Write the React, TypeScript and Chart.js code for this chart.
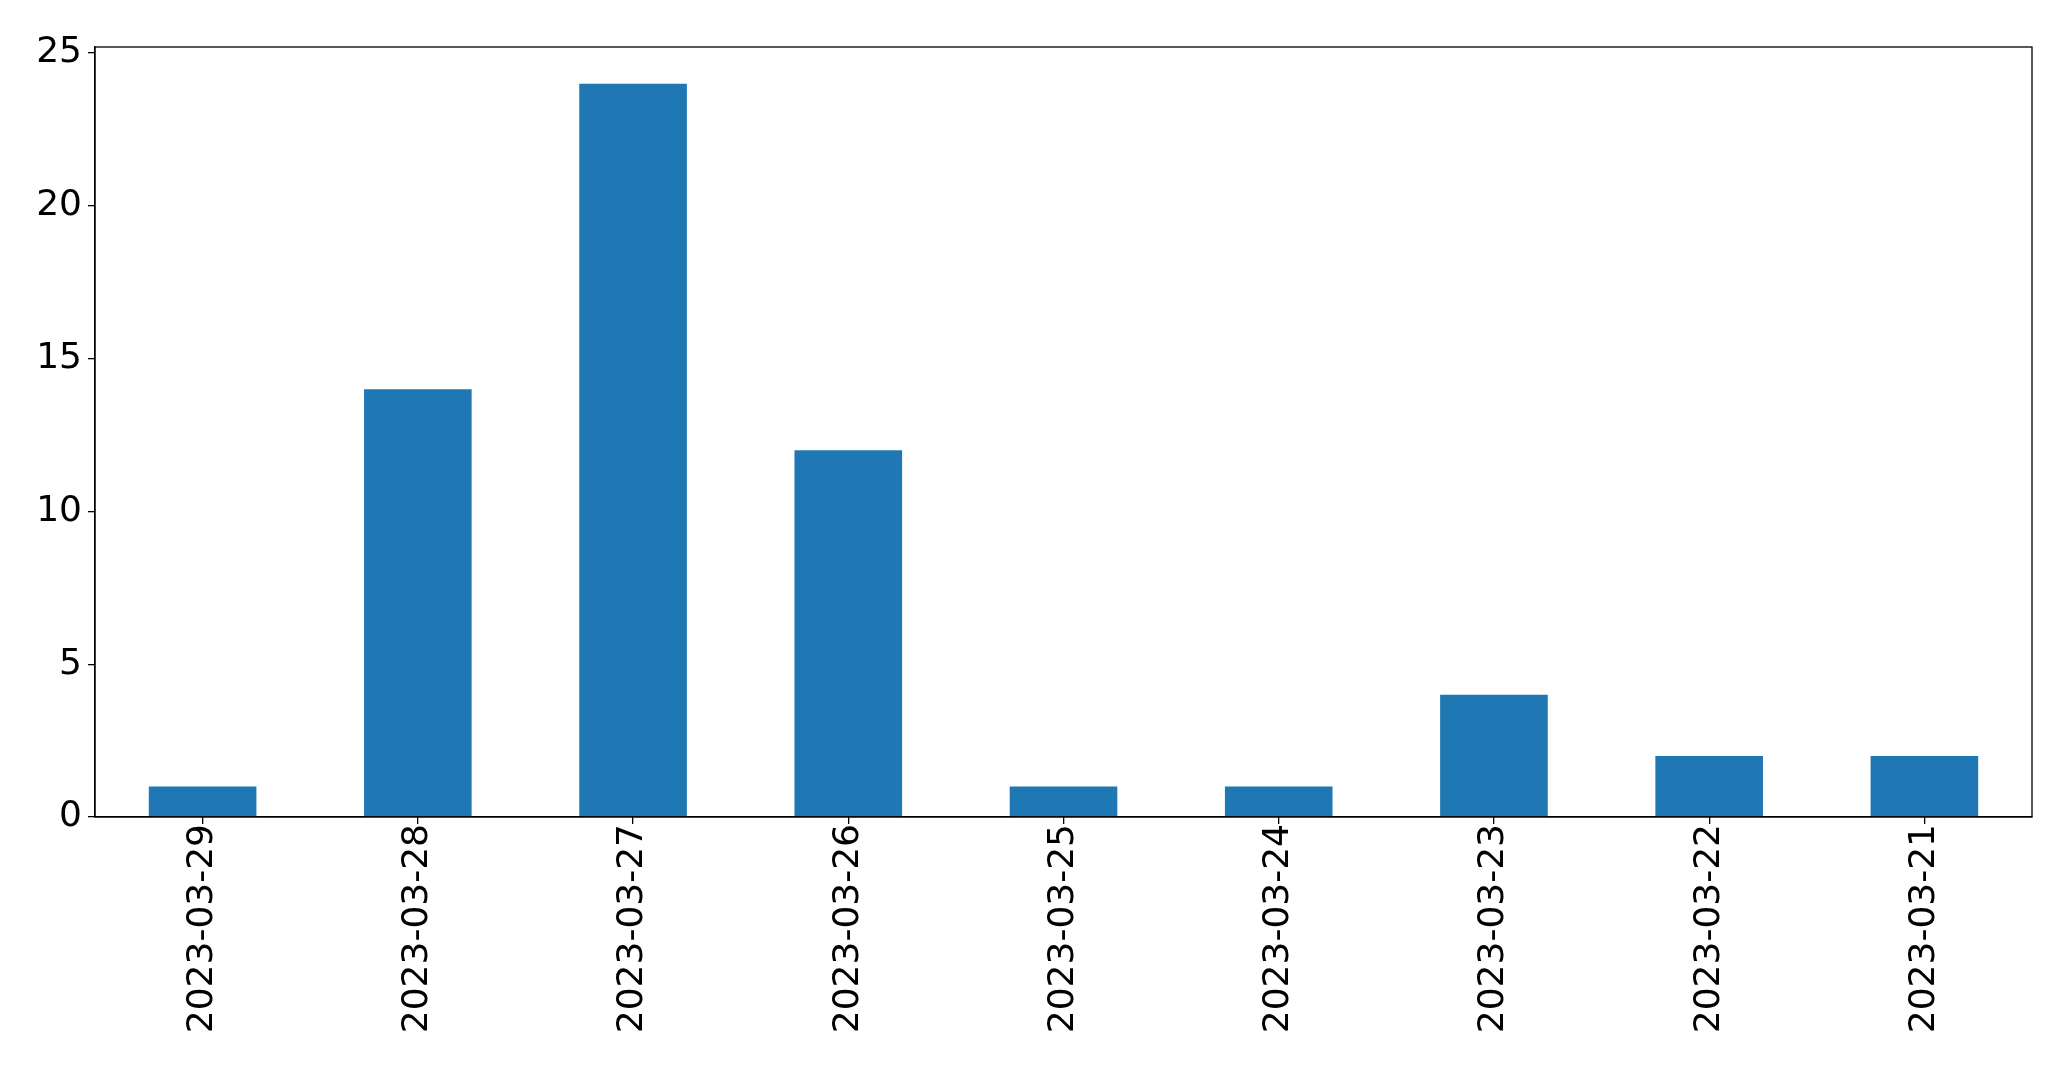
import React, { useEffect, useRef } from "react";
import { Chart, registerables } from "chart.js";

Chart.register(...registerables);

const categories = [
  "2023-03-29",
  "2023-03-28",
  "2023-03-27",
  "2023-03-26",
  "2023-03-25",
  "2023-03-24",
  "2023-03-23",
  "2023-03-22",
  "2023-03-21",
];
const counts = [1, 14, 24, 12, 1, 1, 4, 2, 2];
const yTicks = [0, 5, 10, 15, 20, 25];

const W = 2071;
const H = 1069;

const frame = {
  id: "frame",
  afterDraw(chart: any) {
    const { ctx, chartArea } = chart;
    ctx.save();
    ctx.strokeStyle = "#000";
    ctx.lineWidth = 1.3;
    ctx.strokeRect(chartArea.left, chartArea.top, chartArea.right - chartArea.left, chartArea.bottom - chartArea.top);
    ctx.restore();
  },
};

export default function App() {
  const ref = useRef<HTMLCanvasElement>(null);
  useEffect(() => {
    document.body.style.margin = "0";
    const font = { family: "'DejaVu Sans', sans-serif", size: 36 };
    const chart = new Chart(ref.current!, {
      type: "bar",
      data: {
        labels: categories,
        datasets: [
          {
            data: counts,
            backgroundColor: "#1f77b4",
            borderWidth: 0,
            categoryPercentage: 1,
            barPercentage: 0.5,
          },
        ],
      },
      options: {
        responsive: false,
        animation: false,
        layout: { padding: { top: 47, right: 39, left: 0, bottom: 0 } },
        plugins: { legend: { display: false }, tooltip: { enabled: false } },
        scales: {
          x: {
            offset: true,
            grid: { display: true, drawOnChartArea: false, drawTicks: true, tickLength: 7, color: "#000", lineWidth: 1.3, offset: false },
            border: { display: true, color: "#000", width: 1.3 },
            ticks: { color: "#000", font, maxRotation: 90, minRotation: 90, padding: 0, autoSkip: false },
            afterFit(scale: any) {
              scale.height = 1069 - 817;
            },
          },
          y: {
            min: 0,
            max: 25.2,
            grid: { display: true, drawOnChartArea: false, drawTicks: true, tickLength: 7, color: "#000", lineWidth: 1.3 },
            border: { display: true, color: "#000", width: 1.3 },
            ticks: { color: "#000", font, stepSize: 5, includeBounds: false, padding: 6 },
            afterBuildTicks(scale: any) {
              scale.ticks = yTicks.map((v) => ({ value: v }));
            },
            afterFit(scale: any) {
              scale.width = 95;
            },
          },
        },
      },
      plugins: [frame],
    });
    return () => chart.destroy();
  }, []);
  return (
    <div style={{ position: "absolute", left: 0, top: 0, width: W, height: H, background: "#fff" }}>
      <canvas ref={ref} width={W} height={H} style={{ width: W, height: H, display: "block" }} />
    </div>
  );
}
